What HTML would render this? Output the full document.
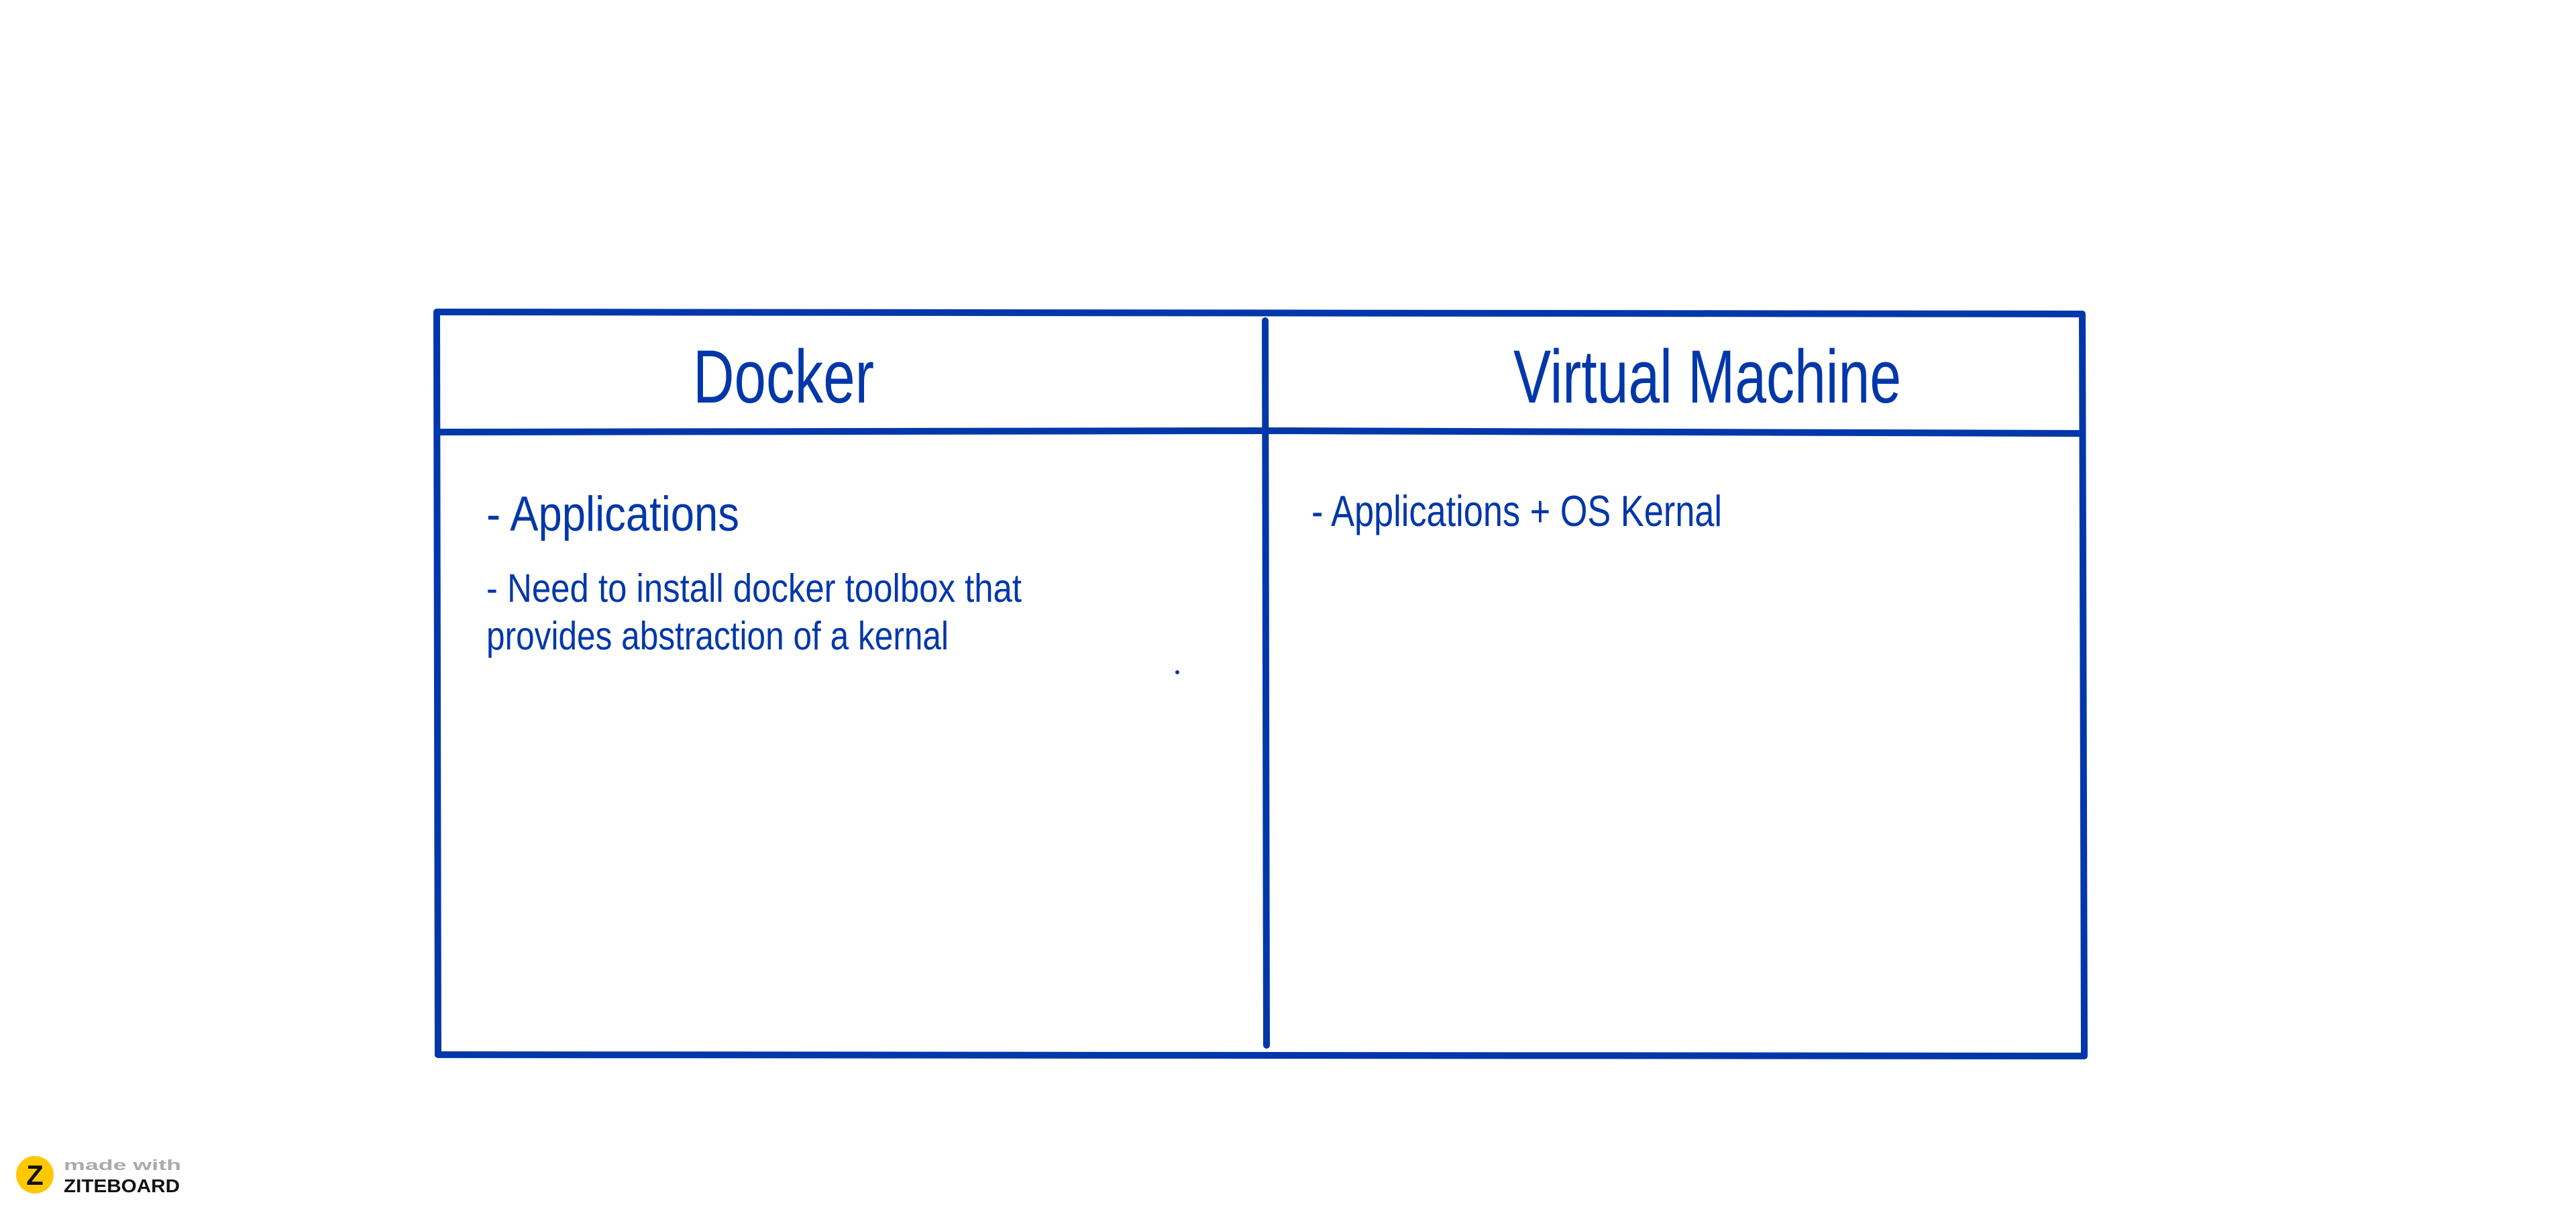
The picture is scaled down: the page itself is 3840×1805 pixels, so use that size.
<!DOCTYPE html>
<html><head><style>html,body{margin:0;padding:0;background:#fff;width:3840px;height:1805px;overflow:hidden}</style></head>
<body>
<svg width="3840" height="1805" viewBox="0 0 3840 1805" xmlns="http://www.w3.org/2000/svg">
<g stroke="#0037a9" stroke-width="10" stroke-linecap="round" fill="none">
<path d="M653 465 L3102 468"/>
<path d="M651 465 L653 1572"/>
<path d="M3104 468 L3107 1572"/>
<path d="M653 1572 L3107 1574"/>
<path d="M653 644 L1886 642 L3104 646"/>
<path d="M1886 478 L1888 1558"/>
</g>
<g fill="#0037a9" font-family="'Liberation Sans Narrow','Liberation Sans',sans-serif">
<text x="1033" y="600" font-size="112" textLength="270" lengthAdjust="spacingAndGlyphs">Docker</text>
<text x="2256" y="600" font-size="112" textLength="578" lengthAdjust="spacingAndGlyphs">Virtual Machine</text>
<text x="725" y="791" font-size="73" textLength="377" lengthAdjust="spacingAndGlyphs">- Applications</text>
<text x="725" y="897" font-size="59" textLength="798" lengthAdjust="spacingAndGlyphs">-  Need to install docker toolbox that</text>
<text x="725" y="968" font-size="59" textLength="689" lengthAdjust="spacingAndGlyphs">provides abstraction of a kernal</text>
<text x="1955" y="784" font-size="65" textLength="612" lengthAdjust="spacingAndGlyphs">- Applications + OS Kernal</text>
<circle cx="1755" cy="1002" r="3"/>
</g>
<circle cx="52" cy="1751" r="28" fill="#ffc800"/>
<text x="52" y="1766" font-family="'Liberation Sans',sans-serif" font-weight="bold" font-size="42" text-anchor="middle" fill="#111">Z</text>
<text x="95" y="1744" font-family="'Liberation Sans',sans-serif" font-weight="bold" font-size="22" fill="#aaa" textLength="175" lengthAdjust="spacingAndGlyphs">made with</text>
<text x="95" y="1777" font-family="'Liberation Sans',sans-serif" font-weight="bold" font-size="28" fill="#111" textLength="173" lengthAdjust="spacingAndGlyphs">ZITEBOARD</text>
</svg>
</body></html>
